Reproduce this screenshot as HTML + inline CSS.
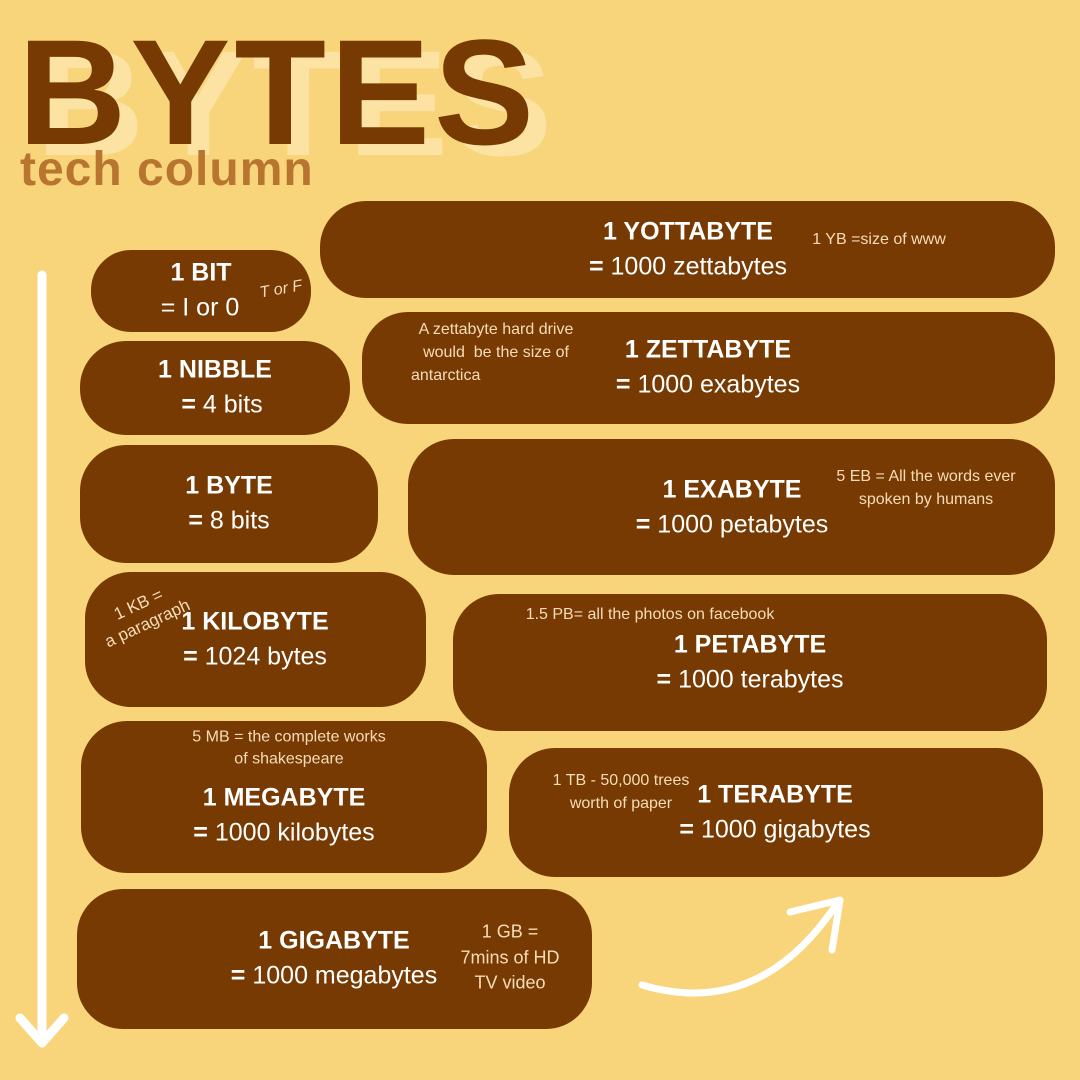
<!DOCTYPE html>
<html><head><meta charset="utf-8"><style>
body{margin:0}
#c{position:relative;width:1080px;height:1080px;background:#F8D57A;overflow:hidden;font-family:"Liberation Sans",sans-serif}
.box{position:absolute;background:#773A02;border-radius:46px}
.t{position:absolute;transform:translate(-50%,-50%);white-space:nowrap;color:#fff;font-size:25px;line-height:1}
.b{font-weight:bold}
.n{position:absolute;transform:translate(-50%,-50%);white-space:nowrap;color:#F6DDB8;font-size:16px;line-height:1;text-align:center}
</style></head><body>
<div id="c">
<div style="position:absolute;left:36px;top:28px;font-size:150px;font-weight:bold;color:#FCE3A4;letter-spacing:4px;line-height:1">BYTES</div>
<div style="position:absolute;left:18px;top:17px;font-size:150px;font-weight:bold;color:#773A02;letter-spacing:4px;line-height:1">BYTES</div>
<div style="position:absolute;left:20px;top:146px;font-size:48px;font-weight:bold;color:#B87530;line-height:1;letter-spacing:1px">tech column</div>

<svg width="1080" height="1080" style="position:absolute;left:0;top:0">
<line x1="42" y1="275" x2="42" y2="1040" stroke="#fff" stroke-width="9" stroke-linecap="round"/>
<polyline points="20,1018 42,1043 64,1018" fill="none" stroke="#fff" stroke-width="9" stroke-linecap="round" stroke-linejoin="round"/>
<path d="M642,985 Q760,1020 838,902" fill="none" stroke="#fff" stroke-width="7" stroke-linecap="round"/>
<polyline points="790,912 840,900 832,950" fill="none" stroke="#fff" stroke-width="7" stroke-linecap="round" stroke-linejoin="round"/>
</svg>

<div class="box" style="left:91px;top:250px;width:220px;height:82px;border-radius:40px"></div>
<div class="box" style="left:80px;top:341px;width:270px;height:94px"></div>
<div class="box" style="left:80px;top:445px;width:298px;height:118px"></div>
<div class="box" style="left:85px;top:572px;width:341px;height:135px"></div>
<div class="box" style="left:81px;top:721px;width:406px;height:152px"></div>
<div class="box" style="left:77px;top:889px;width:515px;height:140px"></div>
<div class="box" style="left:320px;top:201px;width:735px;height:97px"></div>
<div class="box" style="left:362px;top:312px;width:693px;height:112px"></div>
<div class="box" style="left:408px;top:439px;width:647px;height:136px"></div>
<div class="box" style="left:453px;top:594px;width:594px;height:137px"></div>
<div class="box" style="left:509px;top:748px;width:534px;height:129px"></div>

<div class="t b" style="left:201px;top:273px">1 BIT</div>
<div class="t" style="left:200px;top:308px">= I or 0</div>
<div class="n" style="left:281px;top:290px;font-style:italic;transform:translate(-50%,-50%) rotate(-10deg)">T or F</div>

<div class="t b" style="left:215px;top:370px">1 NIBBLE</div>
<div class="t" style="left:222px;top:405px"><b>=</b> 4 bits</div>

<div class="t b" style="left:229px;top:486px">1 BYTE</div>
<div class="t" style="left:229px;top:521px"><b>=</b> 8 bits</div>

<div class="t b" style="left:255px;top:622px">1 KILOBYTE</div>
<div class="t" style="left:255px;top:657px"><b>=</b> 1024 bytes</div>
<div class="n" style="left:143px;top:614px;font-size:17px;line-height:1.25;transform:translate(-50%,-50%) rotate(-25deg)">1 KB =<br>a paragraph</div>

<div class="n" style="left:289px;top:749px;line-height:1.4">5 MB = the complete works<br>of shakespeare</div>
<div class="t b" style="left:284px;top:798px">1 MEGABYTE</div>
<div class="t" style="left:284px;top:833px"><b>=</b> 1000 kilobytes</div>

<div class="t b" style="left:334px;top:941px">1 GIGABYTE</div>
<div class="t" style="left:334px;top:976px"><b>=</b> 1000 megabytes</div>
<div class="n" style="left:510px;top:958px;font-size:18px;line-height:1.42">1 GB =<br>7mins of HD<br>TV video</div>

<div class="t b" style="left:688px;top:232px">1 YOTTABYTE</div>
<div class="t" style="left:688px;top:267px"><b>=</b> 1000 zettabytes</div>
<div class="n" style="left:879px;top:240px">1 YB =size of www</div>

<div class="n" style="left:496px;top:353px;line-height:1.45">A zettabyte hard drive<br>would&nbsp; be the size of<br><span style="display:inline-block;width:170px;text-align:left">antarctica</span></div>
<div class="t b" style="left:708px;top:350px">1 ZETTABYTE</div>
<div class="t" style="left:708px;top:385px"><b>=</b> 1000 exabytes</div>

<div class="t b" style="left:732px;top:490px">1 EXABYTE</div>
<div class="t" style="left:732px;top:525px"><b>=</b> 1000 petabytes</div>
<div class="n" style="left:926px;top:488px;line-height:1.45">5 EB = All the words ever<br>spoken by humans</div>

<div class="n" style="left:650px;top:615px">1.5 PB= all the photos on facebook</div>
<div class="t b" style="left:750px;top:645px">1 PETABYTE</div>
<div class="t" style="left:750px;top:680px"><b>=</b> 1000 terabytes</div>

<div class="n" style="left:621px;top:792px;line-height:1.45">1 TB - 50,000 trees<br>worth of paper</div>
<div class="t b" style="left:775px;top:795px">1 TERABYTE</div>
<div class="t" style="left:775px;top:830px"><b>=</b> 1000 gigabytes</div>
</div>
</body></html>
